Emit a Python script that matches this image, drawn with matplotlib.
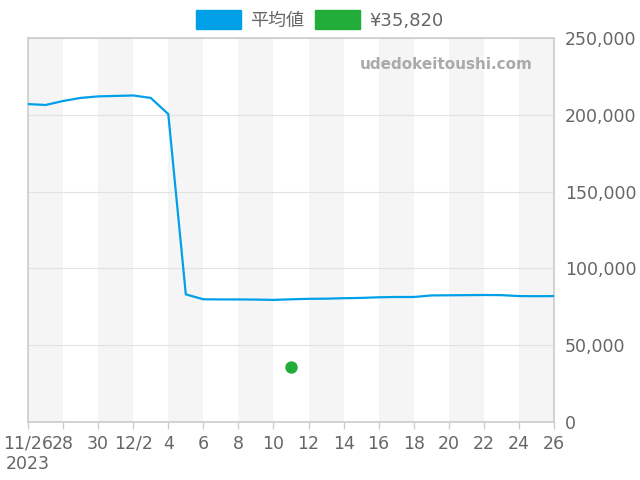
import matplotlib
matplotlib.use('Agg')
import matplotlib.pyplot as plt
import matplotlib.dates as mdates
from matplotlib.patches import Patch
import numpy as np
import datetime as dt

# daily average price, 2023-11-26 .. 2023-12-26
start = dt.date(2023, 11, 26)
avg_price = [
    207000, 206400, 209000, 211000, 212000, 212300, 212600, 211000, 200500,
    83100, 79900, 79800, 79800, 79700, 79500, 79900, 80200, 80300, 80600,
    80800, 81200, 81400, 81400, 82400, 82500, 82600, 82700, 82600, 82000,
    81900, 82000,
]
dates = [start + dt.timedelta(days=i) for i in range(len(avg_price))]

point_date = dt.date(2023, 12, 11)
point_price = 35820

tick_labels = ['11/26\n2023', '28', '30', '12/2', '4', '6', '8', '10',
               '12', '14', '16', '18', '20', '22', '24', '26']

line_color = '#00a0e9'
dot_color = '#22ac38'
text_color = '#666666'

plt.rcParams['font.family'] = ['DejaVu Sans', 'Noto Sans CJK JP']
plt.rcParams['font.size'] = 12.5

fig = plt.figure(figsize=(6.4, 4.8), dpi=100)
ax = fig.add_axes([0.04375, 0.1208, 0.8219, 0.8])

# alternating background bands every 2 days
for i in range(0, 30, 4):
    d0 = mdates.date2num(start + dt.timedelta(days=i))
    ax.axvspan(d0, d0 + 2, color='#f5f5f5', lw=0, zorder=0)

ax.plot(mdates.date2num(dates), avg_price, color=line_color, lw=1.6, zorder=3)
ax.scatter([mdates.date2num(point_date)], [point_price], s=80, color=dot_color,
           zorder=4, lw=0)

ax.set_xlim(mdates.date2num(dates[0]), mdates.date2num(dates[-1]))
ax.set_ylim(0, 250000)

xt = [mdates.date2num(start + dt.timedelta(days=i)) for i in range(0, 31, 2)]
ax.set_xticks(xt)
ax.set_xticklabels(tick_labels)
ax.set_yticks(np.arange(0, 250001, 50000))
ax.yaxis.set_major_formatter(matplotlib.ticker.FuncFormatter(lambda v, p: f'{int(v):,}'))
ax.yaxis.tick_right()
ax.tick_params(axis='y', length=0, pad=8, colors=text_color, labelsize=12.5)
ax.tick_params(axis='x', length=5, width=1, color='#cccccc', pad=4,
               labelcolor=text_color, labelsize=12.5)
ax.grid(axis='y', color='#e2e2e2', lw=0.8, zorder=1)
ax.set_axisbelow(True)
for s in ax.spines.values():
    s.set_color('#cccccc')
    s.set_linewidth(1.2)

ax.text(0.96, 0.93, 'udedokeitoushi.com', transform=ax.transAxes, ha='right',
        va='center', fontsize=11, fontweight='bold', color='#aaaaaa')

handles = [Patch(color=line_color, label='平均値'),
           Patch(color=dot_color, label='¥{:,}'.format(point_price))]
fig.legend(handles=handles, loc='upper center', bbox_to_anchor=(0.5, 1.012),
           ncol=2, frameon=False, handlelength=2.5, handleheight=1.2,
           handletextpad=0.5, columnspacing=0.6, labelcolor=text_color,
           fontsize=13)

fig.savefig('out.png', dpi=100)
